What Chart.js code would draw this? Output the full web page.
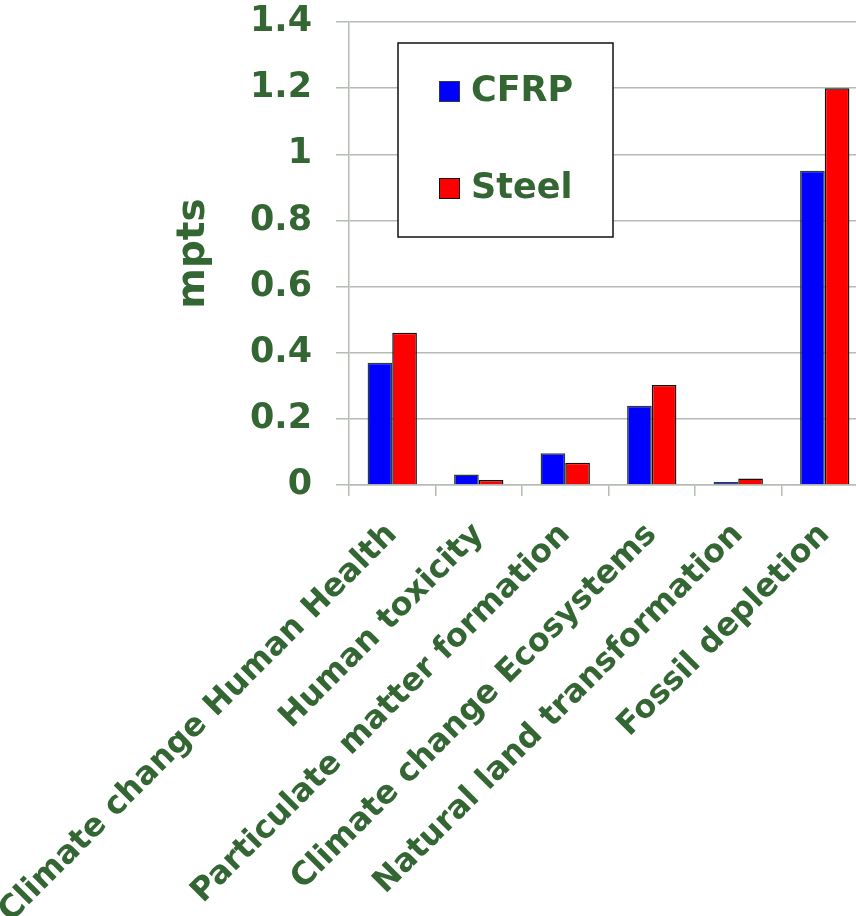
<!DOCTYPE html>
<html>
<head>
<meta charset="utf-8">
<script src="https://cdn.jsdelivr.net/npm/chart.js@4.4.1/dist/chart.umd.min.js"></script>
<style>
  html, body { margin: 0; padding: 0; background: #fff; overflow: hidden; }
  #wrap { position: absolute; left: 0; top: 0; width: 868px; height: 916px; }
</style>
</head>
<body>
<div id="wrap"><canvas id="chart" width="868" height="916"></canvas></div>
<script>
// Chart data
const categories = [
    'Climate change Human Health',
    'Human toxicity',
    'Particulate matter formation',
    'Climate change Ecosystems',
    'Natural land transformation',
    'Fossil depletion'
];
const cfrpValues = [0.370, 0.032, 0.096, 0.240, 0.009, 0.950];
const steelValues = [0.460, 0.015, 0.067, 0.302, 0.020, 1.200];
const yTickLabels = ['0', '0.2', '0.4', '0.6', '0.8', '1', '1.2', '1.4'];

const textColor = '#336633';
const gridColor = '#b4bcb4';
const fontFamily = '"DejaVu Sans", Verdana, sans-serif';

// Boxed legend drawn inside the plot, as in the original
const boxLegend = {
    id: 'boxLegend',
    afterDraw(chart) {
        const ctx = chart.ctx;
        ctx.save();
        ctx.fillStyle = '#fff';
        ctx.fillRect(398, 43, 215, 194);
        ctx.strokeStyle = '#111';
        ctx.lineWidth = 1.5;
        ctx.strokeRect(398, 43, 215, 194);

        const rows = [91, 188];
        chart.data.datasets.forEach((ds, i) => {
            const cy = rows[i];
            ctx.fillStyle = ds.backgroundColor;
            ctx.fillRect(439, cy - 10, 20, 20);
            ctx.strokeStyle = ds.borderColor;
            ctx.lineWidth = 1;
            ctx.strokeRect(439.5, cy - 9.5, 20, 20);
            ctx.fillStyle = textColor;
            ctx.font = 'bold 35px ' + fontFamily;
            ctx.textBaseline = 'middle';
            ctx.textAlign = 'left';
            ctx.fillText(ds.label, 471, cy + 1);
        });
        ctx.restore();
    }
};

const ctx = document.getElementById('chart').getContext('2d');
new Chart(ctx, {
    type: 'bar',
    data: {
        labels: categories,
        datasets: [
            { label: 'CFRP', data: cfrpValues, backgroundColor: '#0000ff', borderColor: '#2b3d2b', borderWidth: 1.5 },
            { label: 'Steel', data: steelValues, backgroundColor: '#ff0000', borderColor: '#111111', borderWidth: 1.5 }
        ]
    },
    options: {
        responsive: false,
        animation: false,
        layout: { padding: { top: 22, right: 0, bottom: 0, left: 0 } },
        datasets: { bar: { categoryPercentage: 0.57, barPercentage: 1 } },
        plugins: {
            legend: { display: false },
            tooltip: { enabled: false }
        },
        scales: {
            x: {
                grid: { drawOnChartArea: false, color: gridColor, lineWidth: 1.5, tickLength: 11 },
                border: { color: gridColor, width: 1.5 },
                ticks: {
                    color: textColor,
                    font: { family: fontFamily, size: 32, weight: 'bold' },
                    minRotation: 45,
                    maxRotation: 45,
                    autoSkip: false,
                    padding: 20
                },
                afterFit(scale) {
                    scale.height = 431;
                    scale.paddingLeft = 0;
                    scale.paddingRight = 0;
                }
            },
            y: {
                min: 0,
                max: 1.4,
                grid: { color: gridColor, lineWidth: 1.5, tickLength: 13 },
                border: { color: gridColor, width: 1.5 },
                ticks: {
                    stepSize: 0.2,
                    color: textColor,
                    font: { family: fontFamily, size: 35, weight: 'bold' },
                    padding: 24,
                    callback: (v, i) => yTickLabels[i]
                },
                title: {
                    display: true,
                    text: 'mpts',
                    color: textColor,
                    font: { family: fontFamily, size: 39, weight: 'bold' },
                    padding: { top: 170, bottom: 0 }
                },
                afterFit(scale) {
                    scale.width = 349;
                    scale.paddingTop = 0;
                    scale.paddingBottom = 0;
                }
            }
        }
    },
    plugins: [boxLegend]
});
</script>
</body>
</html>
